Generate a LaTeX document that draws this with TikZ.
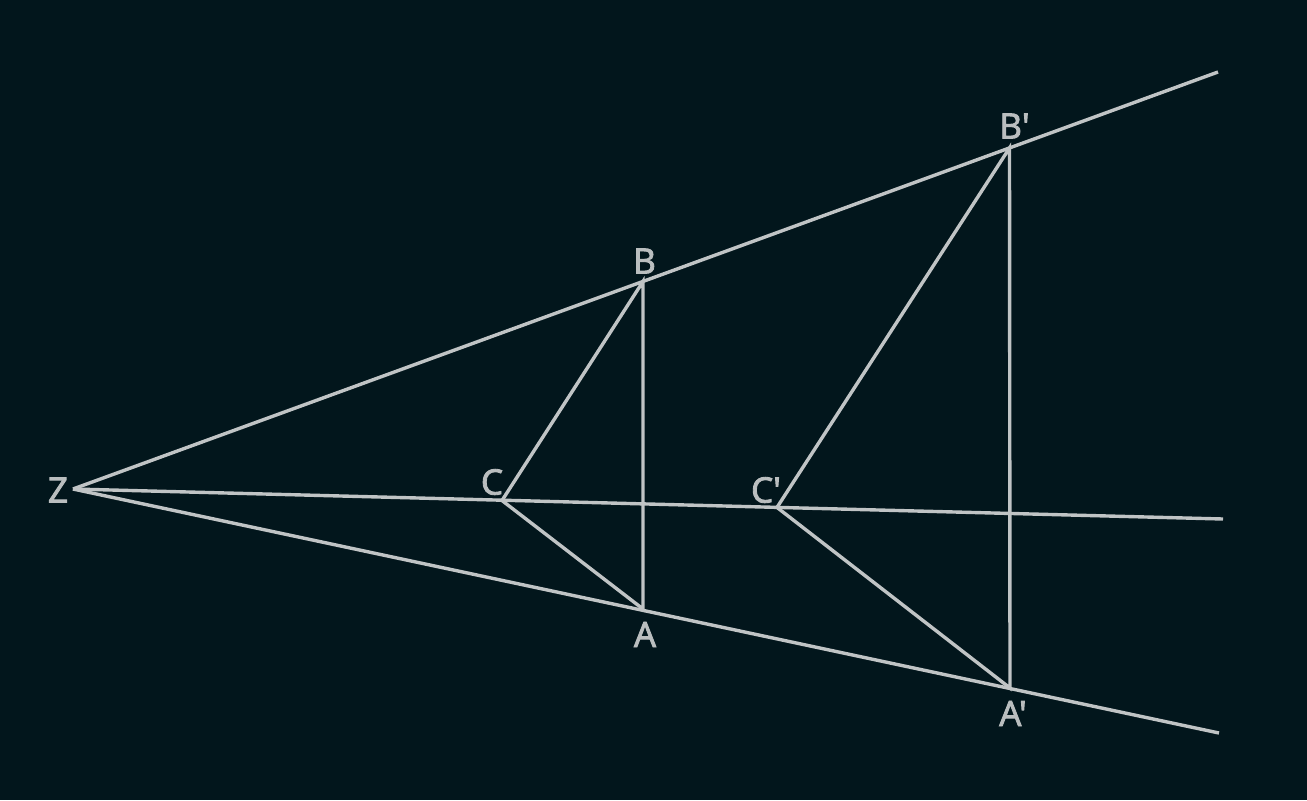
\documentclass[tikz,border=0pt]{standalone}
\usepackage{fontspec}
\newfontfamily\labfont{Open Sans}[Ligatures=TeXOff,FakeBold=2.5]
\definecolor{bgcol}{RGB}{2,22,28}
\definecolor{linecol}{RGB}{192,196,197}
\definecolor{labcol}{RGB}{186,190,191}
\begin{document}
\begin{tikzpicture}[x=0.5pt,y=-0.5pt,
  geo/.style={draw=linecol,line width=1.7pt},
  lab/.style={text=labcol,inner sep=0pt,font=\labfont\fontsize{17.5}{20}\selectfont}]
\fill[bgcol] (0,0) rectangle (1307,800);
\useasboundingbox (0,0) rectangle (1307,800);
% points
\coordinate (Z) at (73,489);
\coordinate (U) at (1218,72);
\coordinate (M) at (1223,519);
\coordinate (L) at (1219,733);
\coordinate (B) at (643,281.5);
\coordinate (C) at (502,500.5);
\coordinate (A) at (643,609);
\coordinate (Bp) at (1009.5,148);
\coordinate (Cp) at (777,507.4);
\coordinate (Ap) at (1010,688);
% rays
\draw[geo] (Z) -- (U);
\draw[geo] (Z) -- (M);
\draw[geo] (Z) -- (L);
% triangles
\draw[geo] (B) -- (C) -- (A) -- cycle;
\draw[geo] (Bp) -- (Cp) -- (Ap) -- cycle;
% labels
\node[lab] (lZ) at (58,490) {Z};
\node[lab] (lB) at (644.5,261) {B};
\node[lab] (lBp) at (1014.5,126) {B'};
\node[lab] (lC) at (492,482) {C};
\node[lab] (lCp) at (766,490) {C'};
\node[lab] (lA) at (645,634.5) {A};
\node[lab] (lAp) at (1013,713.5) {A'};
\end{tikzpicture}
\end{document}
